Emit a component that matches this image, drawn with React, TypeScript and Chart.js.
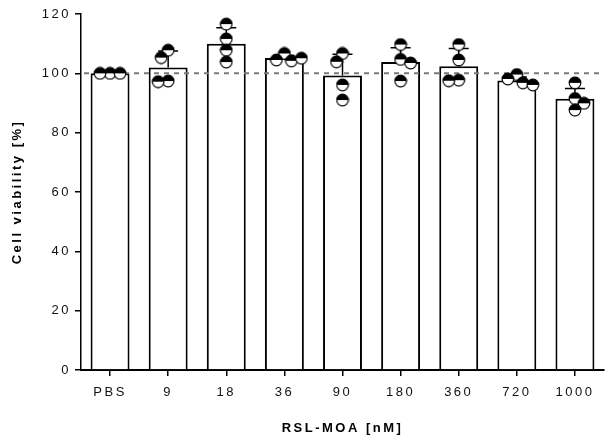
import React, { useEffect, useRef } from 'react';
import { Chart, registerables } from 'chart.js';

Chart.register(...registerables);

// ---- data ----
const categories = ['PBS', '9', '18', '36', '90', '180', '360', '720', '1000'];
const meanViability = [100, 102, 110, 105.2, 99.3, 103.8, 102.4, 97.6, 91.4];
const sdUpperEnd = [100.2, 107.5, 115.4, 106.0, 106.4, 108.6, 108.4, 98.8, 94.9];

const pbsReplicates = [100, 100, 100];
const nm9Replicates = [107.8, 105.3, 97.4, 97.2];
const nm18Replicates = [116.6, 111.6, 107.8, 103.8];
const nm36Replicates = [106.7, 104.5, 104.2, 105.1];
const nm90Replicates = [106.7, 103.9, 96.1, 91.0];
const nm180Replicates = [109.7, 104.7, 103.5, 97.4];
const nm360Replicates = [109.7, 104.5, 97.7, 97.5];
const nm720Replicates = [99.6, 98.1, 96.8, 96.1];
const nm1000Replicates = [96.8, 91.5, 89.9, 87.6];

const replicateSets = [
  pbsReplicates, nm9Replicates, nm18Replicates, nm36Replicates, nm90Replicates,
  nm180Replicates, nm360Replicates, nm720Replicates, nm1000Replicates,
];

const referenceLevel = 100;
const yMin = 0;
const yMax = 120;
const yStep = 20;

const FONT = "'Liberation Sans', Arial, Helvetica, sans-serif";

function makeMarker(): HTMLCanvasElement {
  const c = document.createElement('canvas');
  c.width = 14;
  c.height = 14;
  const g = c.getContext('2d')!;
  const cx = 7, cy = 7, r = 5.8;
  g.fillStyle = '#fff';
  g.beginPath();
  g.arc(cx, cy, r, 0, Math.PI * 2);
  g.fill();
  g.fillStyle = '#000';
  g.beginPath();
  g.arc(cx, cy, r, Math.PI, Math.PI * 2);
  g.closePath();
  g.fill();
  g.strokeStyle = '#000';
  g.lineWidth = 1.2;
  g.beginPath();
  g.arc(cx, cy, r, 0, Math.PI * 2);
  g.stroke();
  return c;
}

const decorPlugin = {
  id: 'decor',
  beforeLayout(chart: any) {
    chart.ctx.letterSpacing = '2.5px';
  },
  beforeDraw(chart: any) {
    chart.ctx.letterSpacing = '2.5px';
  },
  afterDatasetsUpdate(chart: any) {
    // simple beeswarm spread of the replicate points around each category
    const idx = chart.data.datasets.findIndex((d: any) => d.type === 'scatter');
    if (idx < 0) return;
    const meta = chart.getDatasetMeta(idx);
    const raw = chart.data.datasets[idx].data as any[];
    const groups = new Map<string, any[]>();
    meta.data.forEach((el: any, i: number) => {
      const k = raw[i].x;
      if (!groups.has(k)) groups.set(k, []);
      groups.get(k)!.push(el);
    });
    const T = 10;
    groups.forEach((els) => {
      const placed: { x: number; y: number }[] = [];
      els.forEach((el: any, n: number) => {
        const dir = n % 2 === 0 ? 1 : -1;
        let best = 0;
        for (let s = 0; s <= 40; s++) {
          const cands = s === 0 ? [0] : [dir * s, -dir * s];
          let ok: number | null = null;
          for (const off of cands) {
            if (placed.every((p) => Math.hypot(el.x + off - p.x, el.y - p.y) >= T)) {
              ok = off;
              break;
            }
          }
          if (ok !== null) {
            best = ok;
            break;
          }
        }
        el.x += best;
        placed.push({ x: el.x, y: el.y });
      });
    });
  },
  afterDatasetDraw(chart: any, args: any) {
    if (args.meta.type !== 'bar') return;
    const ctx = chart.ctx;
    const xs = chart.scales.x;
    const ys = chart.scales.y;
    const area = chart.chartArea;
    ctx.save();
    ctx.strokeStyle = '#000';
    ctx.lineWidth = 1.5;
    categories.forEach((_c, i) => {
      const x = xs.getPixelForValue(i);
      const y0 = ys.getPixelForValue(meanViability[i]);
      const y1 = ys.getPixelForValue(sdUpperEnd[i]);
      if (y0 - y1 < 1) return;
      ctx.beginPath();
      ctx.moveTo(x, y0);
      ctx.lineTo(x, y1);
      ctx.moveTo(x - 10, y1);
      ctx.lineTo(x + 10, y1);
      ctx.stroke();
    });
    const yr = ys.getPixelForValue(referenceLevel);
    ctx.setLineDash([5, 5]);
    ctx.strokeStyle = '#7a7a7a';
    ctx.lineWidth = 2;
    ctx.beginPath();
    ctx.moveTo(area.left + 3, yr);
    ctx.lineTo(area.right, yr);
    ctx.stroke();
    ctx.restore();
  },
};

export default function App() {
  const ref = useRef<HTMLCanvasElement>(null);

  useEffect(() => {
    const canvas = ref.current!;
    const marker = makeMarker();
    const points: { x: string; y: number }[] = [];
    replicateSets.forEach((vals, ci) => {
      vals.forEach((v) => points.push({ x: categories[ci], y: v }));
    });

    const chart = new Chart(canvas, {
      type: 'bar',
      data: {
        labels: categories,
        datasets: [
          {
            type: 'scatter',
            label: 'Replicates',
            data: points as any,
            order: 0,
            pointStyle: marker as any,
            pointRadius: 6,
            pointHoverRadius: 6,
            showLine: false,
          } as any,
          {
            type: 'bar',
            label: 'Mean',
            data: meanViability,
            order: 1,
            backgroundColor: '#ffffff',
            borderColor: '#000000',
            borderWidth: 2,
            borderSkipped: 'bottom',
            categoryPercentage: 1,
            barPercentage: 0.67,
          } as any,
        ],
      },
      options: {
        animation: false,
        responsive: false,
        devicePixelRatio: 1,
        layout: { padding: { top: 14, right: 4, left: 0, bottom: 0 } },
        plugins: {
          legend: { display: false },
          tooltip: { enabled: false },
        },
        scales: {
          x: {
            type: 'category',
            offset: true,
            afterFit: (s: any) => {
              s.height = 72;
            },
            grid: {
              display: true,
              drawOnChartArea: false,
              offset: false,
              tickLength: 6,
              color: '#000',
              lineWidth: 1.5,
            },
            border: { display: true, color: '#000', width: 2 },
            ticks: {
              color: '#111',
              font: { family: FONT, size: 13 },
              padding: 9,
              maxRotation: 0,
              autoSkip: false,
            },
            title: {
              display: true,
              text: 'RSL-MOA [nM]',
              color: '#000',
              font: { family: FONT, size: 13, weight: 'bold' },
              padding: { top: 0, bottom: 6 },
            },
          },
          y: {
            min: yMin,
            max: yMax,
            afterFit: (s: any) => {
              s.width = 81;
            },
            grid: {
              display: true,
              drawOnChartArea: false,
              tickLength: 6,
              color: '#000',
              lineWidth: 1.5,
            },
            border: { display: true, color: '#000', width: 1.5 },
            ticks: {
              stepSize: yStep,
              color: '#111',
              font: { family: FONT, size: 13 },
              padding: 4,
            },
            title: {
              display: true,
              text: 'Cell viability [%]',
              color: '#000',
              font: { family: FONT, size: 13, weight: 'bold' },
              padding: { top: 10, bottom: 0 },
            },
          },
        },
      } as any,
      plugins: [decorPlugin as any],
    });

    return () => chart.destroy();
  }, []);

  return (
    <div style={{ position: 'fixed', left: 0, top: 0, width: 611, height: 442, background: '#fff' }}>
      <canvas ref={ref} width={611} height={442} style={{ display: 'block', width: '611px', height: '442px' }} />
    </div>
  );
}
